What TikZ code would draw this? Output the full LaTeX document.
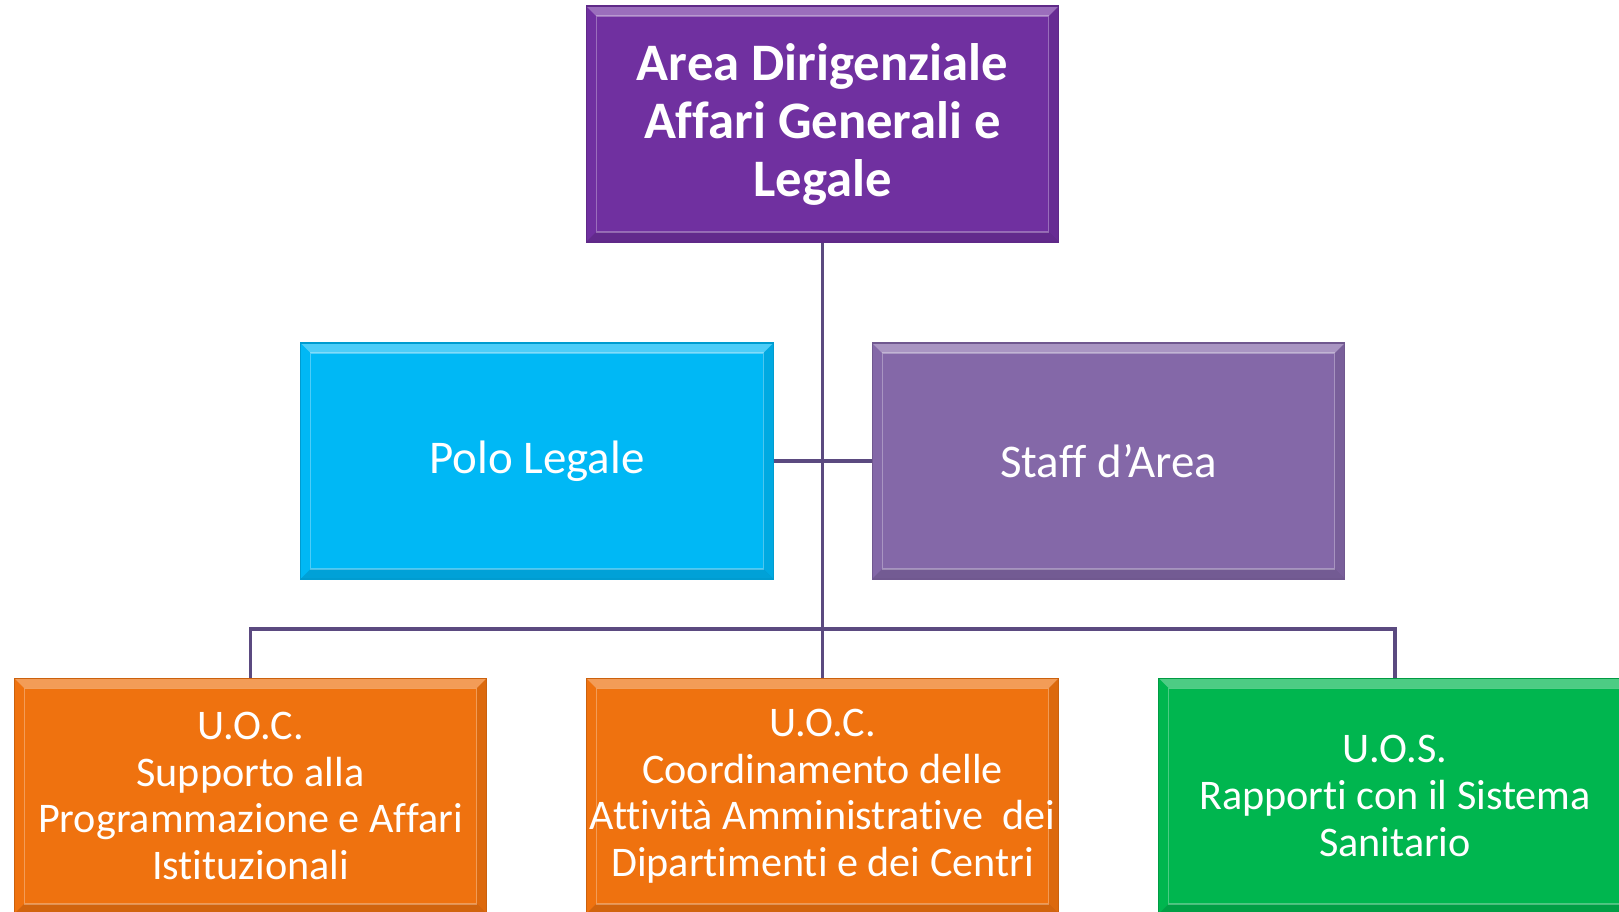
\documentclass[tikz,border=0pt]{standalone}
\usepackage{fontspec}
\setmainfont[Ligatures=NoCommon]{Carlito}
\definecolor{head}{HTML}{7030A0}
\definecolor{legal}{HTML}{00B8F5}
\definecolor{staff}{HTML}{8468A8}
\definecolor{uoc}{HTML}{EF720F}
\definecolor{uos}{HTML}{00B64F}
\definecolor{link}{HTML}{5B4A80}
\tikzset{
  box/.style={rectangle,draw=#1!85!black,line width=0.6pt,fill=#1,text=white,align=center,
    minimum width=9.46cm,minimum height=4.72cm,inner sep=0pt,
    path picture={
      \fill[white,opacity=0.3]
        (path picture bounding box.north west) -- (path picture bounding box.north east) --
        ([shift={(-10,10)}]path picture bounding box.north east) --
        ([shift={(10,10)}]path picture bounding box.north west) -- cycle;
      \fill[black,opacity=0.12]
        (path picture bounding box.south west) -- (path picture bounding box.south east) --
        ([shift={(-10,-10)}]path picture bounding box.south east) --
        ([shift={(10,-10)}]path picture bounding box.south west) -- cycle;
      \fill[black,opacity=0.08]
        (path picture bounding box.north east) -- (path picture bounding box.south east) --
        ([shift={(-10,-10)}]path picture bounding box.south east) --
        ([shift={(-10,10)}]path picture bounding box.north east) -- cycle;
      \draw[white,opacity=0.3,line width=0.6pt]
        ([shift={(10,10)}]path picture bounding box.north west) rectangle
        ([shift={(-10,-10)}]path picture bounding box.south east);
    }},
  head/.style={box=head,font=\fontsize{30}{33}\selectfont\bfseries},
  legal/.style={box=legal,font=\fontsize{26.7}{30}\selectfont},
  staff/.style={box=staff,font=\fontsize{26.7}{30}\selectfont},
  uoc/.style={box=uoc,font=\fontsize{24}{26.5}\selectfont},
  uos/.style={box=uos,font=\fontsize{24}{26.5}\selectfont},
  link/.style={draw=link,line width=2.2pt},
}

\begin{document}
\begin{tikzpicture}[x=0.02cm,y=-0.02cm]
  \useasboundingbox (0,0) rectangle (1619,912);
  \clip (0,0) rectangle (1619,912);
  \coordinate (bar) at (822.5,629);

  \node [head] (area) at (822.5,124) {Area Dirigenziale\\Affari Generali e\\Legale};
  \node [legal] (polo) at (537,461) {Polo Legale};
  \node [staff] (staff) at (1108.5,461) {Staff d’Area};
  \node [uoc] (uoc1) at (250.5,796) {U.O.C.\\Supporto alla\\Programmazione e Affari\\Istituzionali};
  \node [uoc] (uoc2) at (822.5,796) {U.O.C.\\Coordinamento delle\\Attività Amministrative~~dei\\Dipartimenti e dei Centri};
  \node [uos] (uos) at (1395,796) {U.O.S.\\Rapporti con il Sistema\\Sanitario};

  % connectors
  \draw [link] (area.south) -- (uoc2.north);
  \draw [link] (polo.east) -- (staff.west);
  \draw [link] (uoc1.north) |- (bar) -| (uos.north);
\end{tikzpicture}
\end{document}
